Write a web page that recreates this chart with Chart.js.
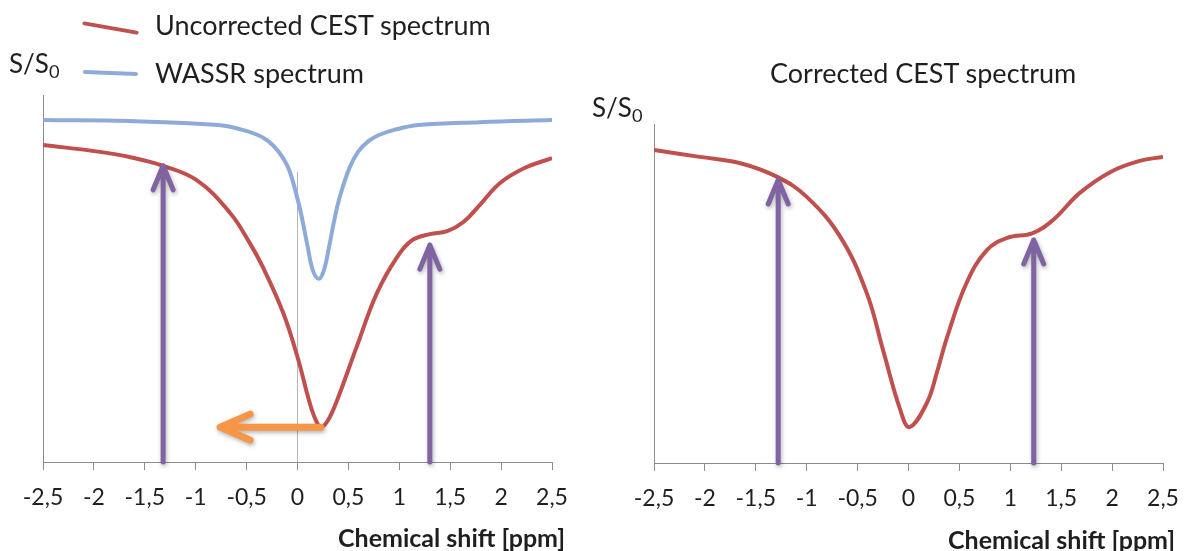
<!DOCTYPE html>
<html>
<head>
<meta charset="utf-8">
<script src="https://cdn.jsdelivr.net/npm/chart.js@4/dist/chart.umd.min.js"></script>
<style>
  body { margin: 0; background: #fff; font-family: Lato, sans-serif; color: #1f1f1f; }
  #wrap { position: relative; width: 1184px; height: 551px; overflow: hidden; }
  .box { position: absolute; top: 0; height: 551px; }
  .txt { position: absolute; white-space: nowrap; line-height: 1; }
  .swatch { position: absolute; height: 4px; border-radius: 2px; }
  sub { font-size: 0.7em; vertical-align: -0.25em; line-height: 0; }
</style>
</head>
<body>
<div id="wrap">
  <div class="box" style="left:0;width:580px"><canvas id="left-chart"></canvas></div>
  <div class="box" style="left:580px;width:604px"><canvas id="right-chart"></canvas></div>

  <div class="swatch" style="left:82px;top:26px;width:57px;background:#c0504d;transform:rotate(10deg)"></div>
  <div class="swatch" style="left:83px;top:71px;width:55px;background:#8eaad8;transform:rotate(2deg)"></div>
  <div class="txt" style="left:155px;top:11px;font-size:27px">Uncorrected CEST spectrum</div>
  <div class="txt" style="left:155px;top:59px;font-size:27px">WASSR spectrum</div>
  <div class="txt" style="left:9px;top:50px;font-size:26px">S/S<sub>0</sub></div>
  <div class="txt" style="left:592px;top:94px;font-size:26px">S/S<sub>0</sub></div>
  <div class="txt" style="left:770px;top:59px;font-size:27px">Corrected CEST spectrum</div>
  <div class="txt" style="left:338px;top:525px;font-size:25px;font-weight:bold">Chemical shift [ppm]</div>
  <div class="txt" style="left:948px;top:527px;font-size:25px;font-weight:bold">Chemical shift [ppm]</div>
</div>

<script>
// x ticks (ppm)
const tickMin = -2.5;
const tickMax = 2.5;
const tickStep = 0.5;

// WASSR spectrum (left chart)
const wassrX = [-2.5, -1.65, -0.78, -0.54, -0.39, -0.29, -0.19, -0.09, 0.0, 0.05, 0.10, 0.15, 0.21, 0.26, 0.31, 0.36, 0.41, 0.51, 0.60, 0.70, 0.80, 0.95, 1.19, 1.79, 2.5];
const wassrY = [0.932, 0.929, 0.918, 0.905, 0.891, 0.875, 0.847, 0.801, 0.717, 0.657, 0.586, 0.523, 0.499, 0.523, 0.586, 0.657, 0.717, 0.801, 0.847, 0.875, 0.891, 0.905, 0.918, 0.926, 0.932];

// uncorrected CEST spectrum (left chart)
const rawX = [-2.5, -1.94, -1.65, -1.32, -0.99, -0.66, -0.47, -0.34, -0.14, 0.0, 0.12, 0.18, 0.23, 0.30, 0.39, 0.58, 0.78, 0.98, 1.13, 1.30, 1.47, 1.63, 1.79, 1.99, 2.23, 2.5];
const rawY = [0.864, 0.845, 0.831, 0.807, 0.768, 0.678, 0.597, 0.531, 0.406, 0.286, 0.161, 0.114, 0.095, 0.114, 0.169, 0.313, 0.460, 0.559, 0.605, 0.621, 0.629, 0.654, 0.700, 0.760, 0.801, 0.828];

// corrected CEST spectrum (right chart)
const corrX = [-2.5, -2.05, -1.66, -1.29, -1.0, -0.67, -0.41, -0.25, -0.08, 0.01, 0.18, 0.28, 0.38, 0.57, 0.77, 0.97, 1.22, 1.42, 1.68, 1.98, 2.27, 2.5];
const corrY = [0.923, 0.903, 0.885, 0.844, 0.785, 0.667, 0.501, 0.333, 0.156, 0.106, 0.177, 0.268, 0.372, 0.531, 0.628, 0.664, 0.678, 0.717, 0.796, 0.858, 0.891, 0.903];

// zero line (left chart)
const zeroLineTop = 0.79;

// purple arrows: x position and tip height
const leftArrowX = [-1.32, 1.30];
const leftArrowTip = [0.807, 0.591];
const rightArrowX = [-1.28, 1.23];
const rightArrowTip = [0.835, 0.658];

// orange shift arrow (left chart): from minimum back towards zero
const shiftFrom = [0.23, 0.095];
const shiftTo = [-0.76, 0.095];

const red = "#c0504d";
const blue = "#8eaad8";
const purple = "#8064a2";
const orange = "#f79646";
const axisGrey = "#8c8c8c";

function pts(xs, ys) {
  return xs.map((x, i) => ({ x, y: ys[i] }));
}

function curve(data, color) {
  return {
    data,
    borderColor: color,
    borderWidth: 4,
    pointRadius: 0,
    tension: 0.4,
    fill: false,
  };
}

function drawArrow(ctx, x0, y0, x1, y1, color, width, head, spread) {
  const ang = Math.atan2(y1 - y0, x1 - x0);
  ctx.save();
  ctx.strokeStyle = color;
  ctx.lineWidth = width;
  ctx.lineCap = "round";
  ctx.lineJoin = "round";
  ctx.shadowColor = "rgba(0,0,0,0.3)";
  ctx.shadowBlur = 4;
  ctx.shadowOffsetX = 1;
  ctx.shadowOffsetY = 2;
  ctx.beginPath();
  ctx.moveTo(x0, y0);
  ctx.lineTo(x1, y1);
  ctx.moveTo(x1 - head * Math.cos(ang) - spread * Math.sin(ang), y1 - head * Math.sin(ang) + spread * Math.cos(ang));
  ctx.lineTo(x1, y1);
  ctx.lineTo(x1 - head * Math.cos(ang) + spread * Math.sin(ang), y1 - head * Math.sin(ang) - spread * Math.cos(ang));
  ctx.stroke();
  ctx.restore();
}

const arrowPlugin = {
  id: "arrows",
  afterDatasetsDraw(chart, args, opts) {
    const { ctx, scales } = chart;
    const xs = scales.x;
    const ys = scales.y;
    (opts.upX || []).forEach((x, i) => {
      const px = xs.getPixelForValue(x);
      drawArrow(ctx, px, ys.getPixelForValue(0), px, ys.getPixelForValue(opts.upTip[i]), purple, 5, 24, 10);
    });
    if (opts.from) {
      drawArrow(ctx,
        xs.getPixelForValue(opts.from[0]), ys.getPixelForValue(opts.from[1]),
        xs.getPixelForValue(opts.to[0]), ys.getPixelForValue(opts.to[1]),
        orange, 7, 30, 13);
    }
  },
};

function makeChart(id, datasets, padding, arrows) {
  const ctx = document.getElementById(id).getContext("2d");
  return new Chart(ctx, {
    type: "line",
    data: { datasets },
    plugins: [arrowPlugin],
    options: {
      responsive: true,
      maintainAspectRatio: false,
      animation: false,
      layout: { padding },
      plugins: {
        legend: { display: false },
        tooltip: { enabled: false },
        arrows,
      },
      scales: {
        x: {
          type: "linear",
          min: tickMin,
          max: tickMax,
          afterFit: (s) => {
            s.height = padding.axis;
            s.paddingLeft = 0;
            s.paddingRight = 0;
          },
          border: { color: axisGrey, width: 1 },
          grid: { drawOnChartArea: false, color: axisGrey, tickLength: 8 },
          ticks: {
            stepSize: tickStep,
            padding: 14,
            color: "#1f1f1f",
            font: { family: "Lato", size: 23 },
            maxRotation: 0,
            callback: (v) => String(v).replace(".", ","),
          },
        },
        y: {
          min: 0,
          max: 1,
          afterFit: (s) => { s.width = 0; },
          border: { color: axisGrey, width: 1 },
          grid: { display: false },
          ticks: { display: false },
        },
      },
    },
  });
}

makeChart(
  "left-chart",
  [
    curve(pts(rawX, rawY), red),
    curve(pts(wassrX, wassrY), blue),
    { data: [{ x: 0, y: 0 }, { x: 0, y: zeroLineTop }], borderColor: "#b5b5b5", borderWidth: 1, pointRadius: 0 },
  ],
  { left: 43, right: 28, top: 95, bottom: 0, axis: 89 },
  { upX: leftArrowX, upTip: leftArrowTip, from: shiftFrom, to: shiftTo }
);

makeChart(
  "right-chart",
  [curve(pts(corrX, corrY), red)],
  { left: 74, right: 21, top: 124, bottom: 0, axis: 88 },
  { upX: rightArrowX, upTip: rightArrowTip }
);
</script>
</body>
</html>
